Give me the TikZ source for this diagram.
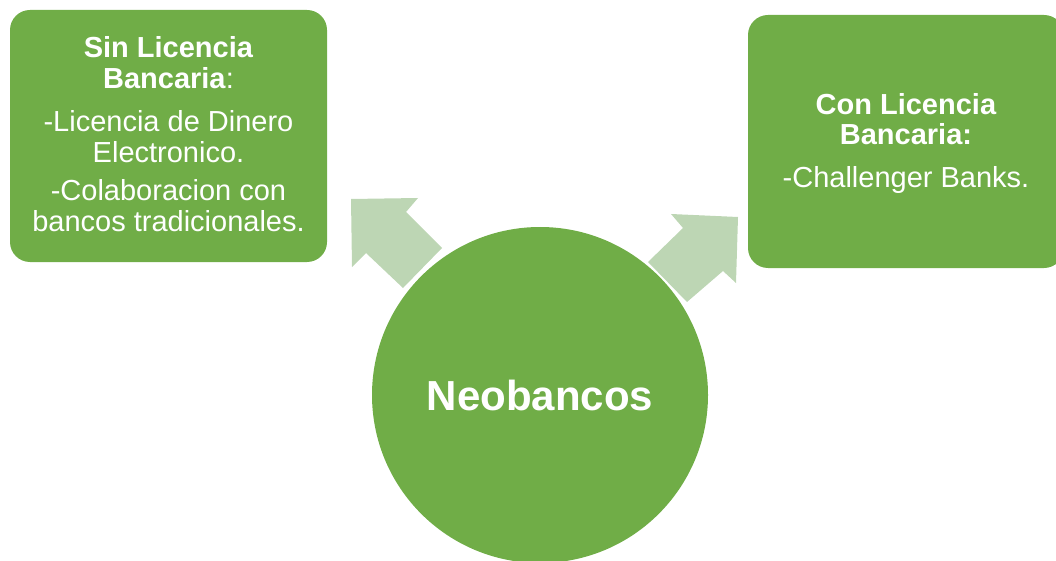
\documentclass[tikz,border=0pt]{standalone}
\usepackage{fontspec}
\setmainfont{Liberation Sans}
\definecolor{leaf}{RGB}{112,173,71}
\definecolor{paleleaf}{RGB}{189,214,180}
\begin{document}
\begin{tikzpicture}[x=1pt,y=-1pt,
  box/.style={fill=leaf, draw=none, rounded corners=20pt, inner sep=0pt},
  boxtext/.style={text=white, align=center, font=\fontsize{29}{30.5}\selectfont, inner sep=0pt},
  hub/.style={circle, fill=leaf, draw=none, text=white, minimum size=336pt, inner sep=0pt,
    font=\fontsize{42}{48}\selectfont\bfseries},
  blockarrow/.style={fill=paleleaf, draw=none}]
\useasboundingbox (0,0) rectangle (1056,561);
\node[hub] (hub) at (540,395) {Neobancos};
\node[box, minimum width=317pt, minimum height=252pt] (left) at (168.5,136) {};
\node[boxtext] (lefttext) at (168.5,134)
  {\textbf{Sin Licencia}\\ \textbf{Bancaria}:\\[13pt]
   -Licencia de Dinero\\ Electronico.\\[8pt]
   -Colaboracion con\\ bancos tradicionales.};
\node[box, minimum width=316pt, minimum height=253pt] (right) at (906,141.5) {};
\node[boxtext] (righttext) at (906,143.5)
  {\textbf{Con Licencia}\\ \textbf{Bancaria:}\\[12pt]
   -Challenger Banks.};
\fill[blockarrow] (351,199) -- (418,198) -- (406,212) -- (442,248) -- (403,288) -- (366,253) -- (352,267) -- cycle;
\fill[blockarrow] (738,217) -- (671,214) -- (683,228) -- (648,262) -- (687,302) -- (723,271) -- (736,283) -- cycle;
\end{tikzpicture}
\end{document}
